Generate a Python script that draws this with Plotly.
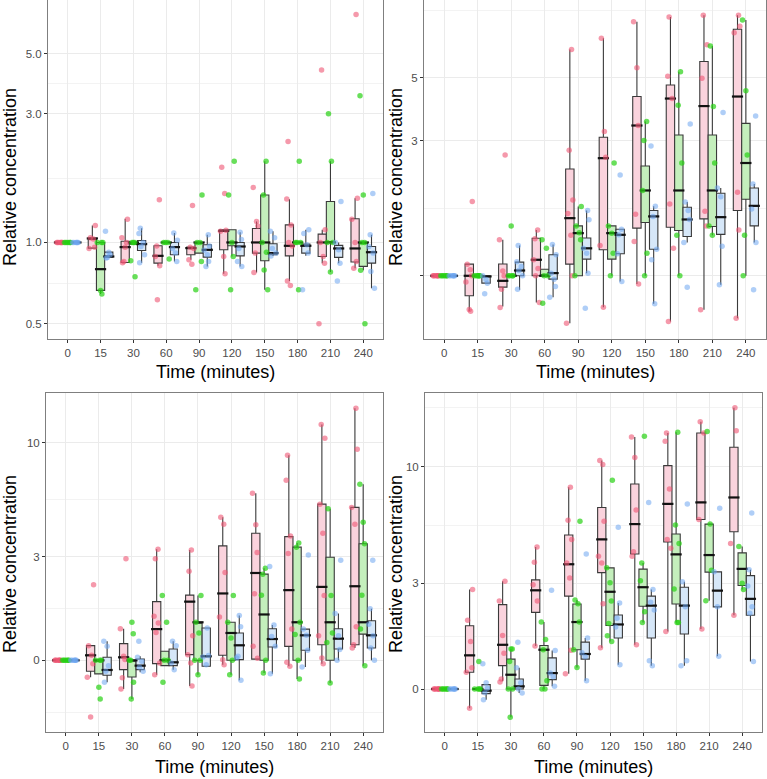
import numpy as np
import plotly.graph_objects as go

TIMES = ["0", "15", "30", "60", "90", "120", "150", "180", "210", "240"]

# ---------- Panel 1 (log scale) : box stats [lower, q1, median, q3, upper] ----------
p1_red_box = [[1, 1, 1, 1, 1], [0.95, 0.953, 1.035, 1.035, 1.156], [0.84, 0.843, 0.961, 1.01, 1.224],
              [0.82, 0.838, 0.892, 0.972, 0.972], [0.863, 0.90, 0.953, 0.961, 0.961], [0.765, 0.939, 1.104, 1.114, 1.114],
              [0.774, 0.913, 1.0, 1.127, 1.196], [0.72, 0.892, 0.972, 1.162, 1.447], [0.838, 0.887, 1.0, 1.074, 1.114],
              [0.803, 0.846, 0.95, 1.224, 1.46]]
p1_green_box = [[1, 1, 1, 1, 1], [0.644, 0.664, 0.796, 1.0, 1.0], [0.985, 0.985, 1.0, 1.0, 1.0], [1, 1, 1, 1, 1],
                [0.913, 0.913, 1.0, 1.0, 1.0], [0.887, 0.972, 1.0, 1.114, 1.114], [0.668, 0.855, 1.0, 1.50, 2.0],
                [1, 1, 1, 1, 1], [0.777, 1.0, 1.0, 1.418, 2.0], [0.788, 0.815, 1.0, 1.0, 1.0]]
p1_blue_box = [[1, 1, 1, 1, 1], [0.875, 0.882, 0.887, 0.921, 0.921], [0.84, 0.934, 0.986, 1.017, 1.13],
               [0.85, 0.90, 0.961, 1.0, 1.083], [0.815, 0.882, 0.939, 0.98, 1.067], [0.815, 0.892, 0.966, 1.0, 1.092],
               [0.89, 0.90, 0.913, 0.989, 1.10], [0.892, 0.913, 0.972, 0.986, 1.114], [0.838, 0.88, 0.95, 0.975, 1.0],
               [0.677, 0.838, 0.92, 0.966, 1.067]]
p1_red_pts = [[1] * 7, [1.156, 1.04, 1.03, 0.96, 0.95], [1.22, 1.04, 0.96, 1.0, 0.85, 0.84],
              [1.44, 0.97, 0.887, 0.82, 0.613], [1.37, 0.96, 0.95, 0.863, 0.83], [1.90, 1.52, 1.11, 1.10, 0.887, 0.765],
              [1.6, 1.196, 1.15, 0.913, 0.774], [2.37, 1.45, 1.16, 1.0, 0.97, 0.72, 0.693],
              [4.36, 1.114, 1.0, 0.887, 0.838, 0.5], [7.0, 1.46, 1.22, 1.0, 0.85, 0.803]]
p1_green_pts = [[1] * 6, [1.0, 1.0, 1.0, 0.664, 0.644], [1.0, 1.0, 1.0, 0.855, 0.746], [1.0, 1.0, 1.0, 0.868],
                [1.5, 1.0, 1.0, 0.85, 0.668], [2.0, 1.5, 1.0, 0.887, 0.668], [2.0, 1.5, 1.0, 0.92, 0.79, 0.668],
                [2.0, 1.0, 1.0, 1.0, 0.668], [3.0, 2.0, 1.0, 1.0, 0.777], [3.5, 1.5, 1.0, 1.0, 0.788, 0.5]]
p1_blue_pts = [[1] * 6, [1.10, 0.92, 0.90, 0.88, 0.875], [1.13, 1.08, 1.0, 0.966, 0.90, 0.84],
               [1.083, 1.02, 0.95, 0.913, 0.85], [1.067, 0.97, 0.935, 0.90, 0.85, 0.815],
               [1.092, 1.025, 0.95, 0.85, 0.815], [1.10, 1.04, 0.95, 0.913, 0.89], [1.114, 1.08, 0.98, 0.913, 0.668],
               [1.42, 1.0, 0.94, 0.838, 0.72], [1.52, 1.067, 0.966, 0.913, 0.78, 0.677]]

# ---------- Panel 2 (log scale) ----------
p2_red_box = [[1, 1, 1, 1, 1], [0.749, 0.85, 1.0, 1.099, 1.099], [0.78, 0.912, 0.96, 1.10, 1.339],
              [0.805, 1.0, 1.139, 1.357, 1.45], [0.68, 1.099, 1.597, 2.38, 6.29], [0.775, 1.235, 2.60, 3.08, 6.89],
              [0.935, 1.473, 3.39, 4.29, 7.87], [0.69, 1.484, 4.22, 4.71, 8.19], [0.759, 1.588, 3.97, 5.70, 8.31],
              [0.709, 1.70, 4.29, 7.41, 8.31]]
p2_green_box = [[1, 1, 1, 1, 1], [1, 1, 1, 1, 1], [1, 1, 1, 1, 1], [1.0, 1.0, 1.0, 1.055, 1.055],
                [1.0, 1.0, 1.414, 1.5, 1.755], [1.0, 1.145, 1.414, 1.5, 1.5], [1.0, 1.541, 2.0, 2.44, 3.50],
                [1.0, 1.445, 2.0, 3.14, 5.25], [1.39, 1.493, 2.0, 3.14, 6.47], [1.0, 1.862, 2.5, 3.45, 7.98]]
p2_blue_box = [[1, 1, 1, 1, 1], [0.942, 0.942, 0.995, 1.0, 1.0], [0.893, 1.0, 1.044, 1.117, 1.28],
               [0.84, 0.973, 1.022, 1.186, 1.29], [1.02, 1.145, 1.25, 1.36, 1.70], [0.955, 1.196, 1.395, 1.46, 1.46],
               [0.797, 1.24, 1.62, 1.70, 1.76], [1.31, 1.376, 1.58, 1.746, 1.82], [0.93, 1.40, 1.61, 1.955, 2.04],
               [1.31, 1.50, 1.765, 2.04, 2.11]]
p2_red_pts = [[1] * 7, [1.83, 1.099, 1.05, 1.0, 0.95, 0.76, 0.749], [2.67, 1.339, 1.04, 1.0, 0.897, 0.773],
              [1.45, 1.35, 1.139, 1.06, 1.0, 0.805], [6.29, 2.77, 1.85, 1.66, 1.39, 1.0, 0.68],
              [6.89, 3.23, 2.62, 1.28, 0.775], [7.87, 5.42, 3.39, 1.65, 1.32, 0.935],
              [8.19, 5.06, 4.22, 1.79, 1.25, 0.69], [8.31, 6.53, 4.98, 1.69, 1.5, 0.759],
              [8.31, 7.6, 7.2, 1.97, 1.45, 0.709]]
p2_green_pts = [[1] * 6, [1] * 6, [1.5, 1, 1, 1, 1], [1.339, 1.25, 1.0, 1.0, 0.80], [1.755, 1.5, 1.42, 1.339, 1.0],
                [2.5, 1.5, 1.414, 1.2, 1.0], [3.5, 3.0, 2.0, 1.20, 1.0], [5.25, 4.0, 2.5, 1.39, 1.0],
                [6.47, 3.96, 2.5, 1.5, 1.39], [7.98, 4.5, 2.67, 1.39, 1.0]]
p2_blue_pts = [[1] * 6, [1.0, 0.97, 0.942, 0.864], [1.28, 1.12, 1.079, 1.044, 1.0, 0.897],
               [1.29, 1.186, 1.02, 0.973, 0.917, 0.84], [1.70, 1.576, 1.25, 1.20, 1.02, 0.769],
               [2.27, 1.46, 1.395, 1.196, 0.955], [2.87, 1.76, 1.62, 1.24, 1.14, 0.797],
               [3.43, 1.82, 1.70, 1.58, 1.31, 0.912], [3.77, 2.04, 1.90, 1.27, 0.93], [3.66, 2.11, 1.72, 1.31, 0.893]]

# ---------- Panel 3 (pseudo-log scale) ----------
p3_red_box = [[0, 0, 0, 0, 0], [-0.427, -0.275, 0.125, 0.367, 0.367], [-0.725, -0.233, 0.075, 0.418, 0.80],
              [-0.36, -0.083, 0.79, 1.54, 3.30], [-0.65, 0.142, 1.54, 1.73, 3.27], [-0.108, 0.125, 1.78, 3.43, 4.73],
              [0.03, 0.03, 2.43, 3.97, 6.08], [-0.15, 0.35, 1.88, 3.82, 8.85], [-0.083, 0.39, 1.98, 5.43, 11.9],
              [0.31, 0.39, 2.0, 5.25, 13.9]]
p3_green_box = [[0, 0, 0, 0, 0], [-0.34, -0.34, 0.0, 0.0, 0.0], [-0.99, -0.418, 0.0, 0.0, 0.0],
                [-0.133, -0.133, 0.0, 0.225, 0.225], [-0.36, 0.0, 0.97, 0.97, 1.72], [-0.36, 0.0, 0.69, 0.97, 0.97],
                [-0.32, 0.0, 1.18, 2.39, 2.59], [-0.47, 0.0, 0.97, 3.38, 3.55], [-0.57, 0.0, 0.97, 2.99, 5.17],
                [-0.133, 0.66, 0.97, 3.52, 6.66]]
p3_blue_box = [[0, 0, 0, 0, 0], [-0.552, -0.376, -0.242, 0.075, 0.476], [-0.30, -0.233, -0.133, 0.033, 0.1],
               [-0.233, -0.133, -0.05, 0.284, 0.476], [-0.15, -0.15, 0.1, 0.82, 0.82], [-0.50, 0.017, 0.376, 0.69, 1.15],
               [-0.335, 0.335, 0.535, 0.80, 0.90], [-0.167, 0.25, 0.63, 0.79, 0.79], [0.0, 0.284, 0.545, 0.80, 1.21],
               [0.0, 0.31, 0.63, 1.01, 1.34]]
p3_red_pts = [[0] * 7, [2.05, 0.367, 0.125, -0.083, -0.427, -1.48], [2.93, 0.80, 0.10, 0.02, -0.44, -0.725],
              [3.30, 2.93, 1.13, 0.95, 0.70, -0.067, -0.36], [3.27, 2.49, 0.62, 0.142, -0.067, -0.65],
              [4.73, 4.39, 2.45, 1.11, 0.017, -0.108], [6.08, 4.36, 3.17, 1.77, 0.35, 0.05],
              [8.85, 6.92, 3.85, 3.13, 0.79, -0.05, -0.15], [11.9, 10.45, 5.43, 3.97, 1.72, 0.62, 0.06, -0.083],
              [13.9, 9.4, 5.25, 4.39, 0.85, 0.39, 0.31]]
p3_green_pts = [[0] * 6, [0, 0, 0, -0.68, -0.99], [0.97, 0.67, 0, 0, -0.55, -0.99], [1.72, 0.97, 0, 0, -0.55],
                [1.72, 0.97, 0.69, 0, 0, -0.36], [1.72, 0.97, 0.56, 0, -0.36], [2.59, 2.39, 1.73, 0, -0.32],
                [3.55, 3.38, 0.97, 0.65, 0, -0.47], [5.17, 1.72, 0.69, 0.45, -0.57],
                [6.66, 4.48, 3.52, 1.73, 0.79, -0.133]]
p3_blue_pts = [[0] * 6, [0.476, 0.35, -0.133, -0.275, -0.552], [0.476, 0.075, -0.025, -0.175, -0.275],
               [0.476, 0.367, -0.067, -0.233], [0.82, 0.12, 0.08, -0.108], [1.15, 0.85, 0.10, 0.06, -0.50],
               [2.65, 0.90, 0.60, 0.35, -0.335], [3.07, 0.79, 0.63, 0.25, -0.167], [2.88, 1.21, 0.62, 0.27, 0.0],
               [2.88, 1.34, 0.92, 0.62, 0.31, 0.0]]

# ---------- Panel 4 (pseudo-log scale) ----------
p4_red_box = [[0, 0, 0, 0, 0], [-0.47, 0.41, 0.835, 1.635, 2.78], [0.19, 0.575, 1.11, 2.27, 3.08],
              [1.08, 2.03, 2.75, 3.13, 4.52], [0.375, 2.55, 3.75, 5.13, 8.23], [1.03, 3.41, 4.9, 6.76, 10.6],
              [1.11, 4.2, 5.73, 8.48, 13.2], [1.47, 4.77, 7.0, 10.1, 13.7], [1.54, 6.0, 7.1, 13.7, 15.2],
              [1.94, 5.3, 7.45, 12.0, 17.3]]
p4_green_box = [[0, 0, 0, 0, 0], [0, 0, 0, 0, 0], [-0.70, 0.0, 0.35, 0.74, 1.0], [0.0, 0.09, 0.98, 1.09, 1.74],
                [0.53, 0.98, 1.74, 2.29, 2.42], [1.2, 1.64, 2.7, 3.6, 3.6], [1.73, 2.22, 2.86, 3.55, 3.8],
                [1.73, 2.29, 4.18, 5.18, 13.8], [2.4, 3.43, 4.15, 5.73, 5.73], [2.78, 2.92, 3.56, 4.25, 4.55]]
p4_blue_box = [[0, 0, 0, 0, 0], [-0.26, -0.114, -0.04, 0.106, 0.106], [-0.1, 0.0, 0.065, 0.245, 0.52],
               [0.065, 0.23, 0.39, 0.77, 0.96], [0.2, 0.74, 0.87, 1.18, 1.29], [0.6, 1.29, 1.67, 1.95, 2.32],
               [0.575, 1.29, 2.24, 2.55, 2.78], [0.575, 1.40, 2.24, 2.86, 3.06], [0.81, 2.2, 2.74, 3.44, 3.44],
               [0.68, 1.94, 2.46, 3.29, 3.52]]
p4_red_pts = [[0] * 7, [2.78, 1.79, 1.20, 0.52, 0.41, -0.47], [3.08, 2.39, 1.36, 0.89, 0.245, 0.17],
              [4.52, 3.83, 2.95, 2.39, 1.08], [8.23, 5.95, 4.9, 3.8, 3.2, 0.97, 0.375],
              [10.6, 10.2, 5.9, 4.1, 3.8, 2.3, 1.03], [13.2, 10.9, 6.6, 4.3, 4.1, 1.11],
              [13.7, 12.7, 8.09, 4.9, 4.47, 1.47], [15.2, 13.7, 6.0, 1.54], [17.3, 14.0, 4.7, 1.94]]
p4_green_pts = [[0] * 6, [0.68, 0, 0, 0, 0], [1.0, 1.0, 0.68, 0, 0, -0.70], [1.74, 1.25, 0.98, 0.2, 0, 0],
                [5.9, 2.42, 2.3, 1.74, 0.98, 0.53], [8.78, 3.6, 3.02, 2.39, 1.7, 1.35, 1.2],
                [13.3, 3.8, 3.1, 2.05, 1.73], [13.8, 5.68, 4.7, 2.8, 1.73, 1.73], [13.9, 5.73, 3.5, 2.4],
                [4.55, 3.0, 2.78]]
p4_blue_pts = [[0] * 6, [0.625, 0.15, 0.02, -0.09, -0.26], [1.18, 0.52, 0.15, 0.0, -0.1],
               [2.75, 0.96, 0.39, 0.3, 0.065], [4.2, 1.29, 0.9, 0.8, 0.2], [5.55, 2.32, 1.85, 1.6, 0.6],
               [7.1, 2.78, 2.35, 2.1, 0.7, 0.575], [7.0, 3.06, 2.2, 0.7, 0.575], [6.7, 3.44, 2.2, 0.81],
               [6.4, 3.52, 2.9, 2.2, 2.0, 0.68]]

# ---------- scales ----------
SIGMA2 = 2.68  # pseudo-log transform asinh(x / SIGMA2)


def pseudo(v):
    return np.arcsinh(np.asarray(v, dtype=float) / SIGMA2)


OFFS = [-0.25, 0.0, 0.25]
BOX_FILL = ["#FAD3DD", "#C4EFBC", "#D6E7F8"]
PT_COL = ["rgba(238,85,115,0.6)", "rgba(40,210,20,0.7)", "rgba(110,165,240,0.55)"]
JIT = [-0.08, 0.05, -0.02, 0.09, -0.06, 0.03, 0.07, -0.10, 0.0, 0.04, -0.04]
FONT = "Liberation Sans, Arial, sans-serif"

panels = [
    dict(box=[p1_red_box, p1_green_box, p1_blue_box], pts=[p1_red_pts, p1_green_pts, p1_blue_pts], tr=None),
    dict(box=[p2_red_box, p2_green_box, p2_blue_box], pts=[p2_red_pts, p2_green_pts, p2_blue_pts], tr=None),
    dict(box=[p3_red_box, p3_green_box, p3_blue_box], pts=[p3_red_pts, p3_green_pts, p3_blue_pts], tr=pseudo),
    dict(box=[p4_red_box, p4_green_box, p4_blue_box], pts=[p4_red_pts, p4_green_pts, p4_blue_pts], tr=pseudo),
]

fig = go.Figure()
for pi, P in enumerate(panels):
    xa = "x" if pi == 0 else f"x{pi + 1}"
    ya = "y" if pi == 0 else f"y{pi + 1}"
    tr = P["tr"] if P["tr"] is not None else (lambda v: np.asarray(v, dtype=float))
    for g in range(3):
        st = tr(np.array(P["box"][g], dtype=float))
        pos = np.arange(len(TIMES)) + OFFS[g]
        fig.add_trace(go.Box(
            x=pos, lowerfence=st[:, 0], q1=st[:, 1], median=st[:, 2], q3=st[:, 3], upperfence=st[:, 4],
            width=0.25, fillcolor=BOX_FILL[g], line=dict(color="#3a3a3a", width=1.1), whiskerwidth=0,
            boxpoints=False, xaxis=xa, yaxis=ya, showlegend=False, hoverinfo="skip"))
    for g in range(3):
        st = tr(np.array(P["box"][g], dtype=float))
        pos = np.arange(len(TIMES)) + OFFS[g]
        fig.add_trace(go.Scatter(
            x=pos, y=st[:, 2], mode="markers", xaxis=xa, yaxis=ya, showlegend=False, hoverinfo="skip",
            marker=dict(symbol="line-ew", size=8, line=dict(color="#111111", width=2.2))))
    for g in range(3):
        xs, ys = [], []
        for i, vals in enumerate(P["pts"][g]):
            for k, v in enumerate(vals):
                xs.append(i + OFFS[g] + JIT[(k + 3 * i + 2 * g) % len(JIT)])
                ys.append(v)
        fig.add_trace(go.Scatter(
            x=xs, y=tr(ys), mode="markers", xaxis=xa, yaxis=ya, showlegend=False, hoverinfo="skip",
            marker=dict(size=5.5, color=PT_COL[g], line=dict(width=0))))

# ---------- axes ----------
W, H = 767, 779
doms = [
    ((48, 383), (0, 339)),
    ((424, 766), (0, 339)),
    ((46, 383), (393, 732)),
    ((425, 762), (393, 732)),
]
GRID = "#EBEBEB"
MINOR = "#F3F3F3"
common_x = dict(range=[-0.6, 9.6], tickmode="array", tickvals=list(range(len(TIMES))), ticktext=TIMES,
                showgrid=True, gridcolor=GRID, gridwidth=1, showline=True, mirror=True, linecolor="#7F7F7F",
                linewidth=1, ticks="outside", ticklen=3, tickcolor="#333333", zeroline=False,
                tickfont=dict(size=11.5, color="#4D4D4D", family=FONT))
common_y = dict(showgrid=True, gridcolor=GRID, gridwidth=1, showline=True, mirror=True, linecolor="#7F7F7F",
                linewidth=1, ticks="outside", ticklen=3, tickcolor="#333333", zeroline=False,
                tickfont=dict(size=11.5, color="#4D4D4D", family=FONT))

yaxes = [
    dict(type="log", range=[-0.358, 0.899], tickvals=[0.5, 1, 3, 5], ticktext=["0.5", "1.0", "3.0", "5.0"],
         minor=dict(tickvals=[0.7071, 1.732, 3.873], showgrid=True, gridcolor=MINOR, ticks="")),
    dict(type="log", range=[-0.223, 0.973], tickvals=[1, 3, 5], ticktext=["", "3", "5"],
         minor=dict(tickvals=[1.732, 8.66], showgrid=True, gridcolor=MINOR, ticks="")),
    dict(type="linear", range=[-0.668, 2.491], tickvals=list(pseudo([0, 3, 10])), ticktext=["0", "3", "10"],
         minor=dict(tickvals=[float((pseudo(-3) + pseudo(0)) / 2), float((pseudo(0) + pseudo(3)) / 2),
                              float((pseudo(3) + pseudo(10)) / 2)], showgrid=True, gridcolor=MINOR, ticks="")),
    dict(type="linear", range=[-0.392, 2.699], tickvals=list(pseudo([0, 3, 10])), ticktext=["0", "3", "10"],
         minor=dict(tickvals=[float((pseudo(0) + pseudo(3)) / 2), float((pseudo(3) + pseudo(10)) / 2),
                              float((pseudo(10) + pseudo(30)) / 2)], showgrid=True, gridcolor=MINOR, ticks="")),
]

layout = dict(width=W, height=H, margin=dict(l=0, r=0, t=0, b=0), paper_bgcolor="white", plot_bgcolor="white",
              font=dict(family=FONT), showlegend=False)
annotations = []
for pi, ((x0, x1), (y0, y1)) in enumerate(doms):
    sx = "" if pi == 0 else str(pi + 1)
    xd = [x0 / W, x1 / W]
    yd = [1 - y1 / H, 1 - y0 / H]
    layout[f"xaxis{sx}"] = dict(common_x, domain=xd, anchor=f"y{sx}")
    layout[f"yaxis{sx}"] = dict(common_y, domain=yd, anchor=f"x{sx}", **yaxes[pi])
    xt_y = 372 if pi < 2 else 767
    annotations.append(dict(text="Time (minutes)", x=(x0 + x1) / 2 / W, y=1 - xt_y / H, xref="paper", yref="paper",
                            showarrow=False, xanchor="center", yanchor="middle",
                            font=dict(size=18, color="black", family=FONT)))
    yt_x = 10 if pi % 2 == 0 else 396
    yt_y = 177 if pi < 2 else 564
    annotations.append(dict(text="Relative concentration", x=yt_x / W, y=1 - yt_y / H, xref="paper", yref="paper",
                            showarrow=False, xanchor="center", yanchor="middle", textangle=-90,
                            font=dict(size=18, color="black", family=FONT)))
layout["annotations"] = annotations
fig.update_layout(**layout)

fig.write_html("out.html", config={"displayModeBar": False},
               post_script="document.body.style.margin='0';document.body.style.overflow='hidden';")
